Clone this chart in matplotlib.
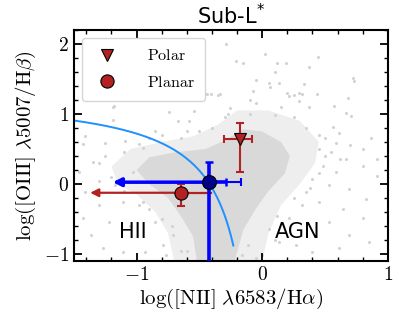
import numpy as np
import matplotlib
matplotlib.use("Agg")
from matplotlib import pyplot as plt
from matplotlib.ticker import MultipleLocator, FuncFormatter

plt.rcParams['mathtext.fontset'] = 'cm'
plt.rcParams['font.family'] = 'serif'
plt.rcParams['font.serif'] = ['DejaVu Serif']

# background galaxy cloud: dense core, medium zone and sparse points (read by eye)
core_x = [-1.0, -0.9, -0.7, -0.45, -0.3, -0.15, 0.0, 0.15, 0.22, 0.18, 0.05, -0.05, -0.15, -0.22, -0.52, -0.55, -0.65, -0.75, -0.9]
core_y = [0.2, 0.38, 0.45, 0.5, 0.62, 0.78, 0.75, 0.6, 0.4, 0.15, -0.1, -0.35, -0.65, -1.1, -1.1, -0.75, -0.45, -0.2, 0.0]
mid_x = [-1.2, -1.05, -0.8, -0.55, -0.35, -0.2, 0.05, 0.3, 0.45, 0.42, 0.3, 0.15, 0.05, 0.0, -0.7, -0.75, -0.85, -1.0, -1.15]
mid_y = [0.25, 0.5, 0.6, 0.68, 0.85, 1.05, 1.05, 0.9, 0.6, 0.3, 0.0, -0.3, -0.7, -1.1, -1.1, -0.7, -0.4, -0.15, 0.0]
sparse_x = [-0.285, 0.02, -0.21, -0.15, 0.115, 0.19, 0.445, 0.37, 0.72, 0.73, -0.05, 0.05, 0.06, 0.13, -0.07,
            -0.44, -0.35, 0.21, 0.29, 0.68, -1.19, 0.37, 0.57, 0.67, 0.71, 0.87, 0.56, 0.61, 0.59, 0.32,
            0.44, 0.29, 0.2, 0.25, 0.33, -0.45, -0.41, -0.34, -0.54, -0.74, -1.19, -1.18, -0.67, -0.58, -0.5,
            -0.85, -1.41, -1.43, -1.25, -1.09, -0.98, -0.9, -0.26, -0.27, -1.46, -1.35, -1.25, -1.41, -1.3,
            -1.43, -1.22, -1.36, -1.27, -1.11, -0.93, -0.79, -0.85, -0.98, -1.11, -1.17, -1.03, -0.9, -0.71,
            -0.77, 0.48, 0.59, 0.67, 0.8, 0.91, 0.53, 0.69, 0.83, 0.45, 0.64, 0.8, 0.53, 0.69, 0.85, 0.61,
            0.4, 0.27, 0.13, 0.05, 0.21, 0.32, 0.0, -0.11, -0.16, 0.91, 0.4, 0.35, 0.45, 0.55, 0.7, 0.5,
            0.8, 0.62, -1.3, -1.05, -0.6, -0.1, 0.1,
            -1.1, -0.95, -0.8, -0.65, -0.4, -0.3, -0.1, 0.1, 0.25, 0.35, 0.45, 0.5, 0.45, 0.38, 0.25, 0.12,
            0.1, -0.05, -0.65, -0.72, -0.8, -0.95, -1.1, -1.2, -1.3, -0.6, -0.05, 0.15]
sparse_y = [2.0, 1.86, 1.76, 1.72, 1.72, 1.72, 1.81, 1.67, 1.51, 1.47, 1.48, 1.44, 1.38, 1.44, 1.33,
            1.28, 1.27, 1.26, 1.3, 1.23, 1.1, 1.1, 1.11, 1.02, 0.97, 0.66, 0.82, 0.73, 0.59, 1.28,
            1.28, 1.18, 1.3, 1.27, 1.43, 1.29, 1.29, 1.29, 1.04, 1.03, 0.92, 1.11, 0.9, 0.9, 0.76,
            0.76, 0.69, 0.57, 0.59, 0.62, 0.57, 0.66, 1.09, 1.0, 0.17, 0.31, 0.4, -0.12, -0.3,
            -0.49, -0.54, -0.73, -0.92, -0.97, -0.97, -0.87, -0.54, -0.3, -0.26, -0.02, 0.17, -0.35, -0.73,
            -1.01, 0.26, 0.17, 0.36, 0.26, 0.12, -0.02, -0.07, -0.21, -0.26, -0.35, -0.49, -0.54, -0.73, -0.83, -0.92,
            -0.97, -0.87, -0.83, -0.64, -0.49, -0.3, -1.01, -0.87, -1.01, 0.36, 0.07, -0.12, 0.5, 0.45, 0.55, 0.65,
            0.5, 0.35, 0.05, -0.6, -0.95, 1.2, 1.6,
            0.45, 0.52, 0.7, 0.65, 0.8, 0.95, 1.0, 0.98, 0.95, 0.8, 0.7, 0.4, 0.15, -0.05, -0.2, -0.45,
            -0.8, -1.05, -0.95, -0.6, -0.5, -0.25, -0.1, 0.1, 0.3, 0.75, 1.15, 1.1]

# Kauffmann et al. (2003) demarcation
ka_a, ka_b, ka_c = 0.61, 0.05, 1.3
ka_xmin, ka_xmax = -1.5, -0.23

# measurements
polar_x, polar_y = -0.178, 0.64
polar_xerr = [[0.128], [0.098]]
polar_yerr = [[0.47], [0.23]]
planar_x, planar_y = -0.645, -0.125
planar_xlim, planar_xhi = -1.37, -0.41
planar_yerr = [[0.19], [0.125]]
sub_x, sub_y = -0.42, 0.026
sub_xlim, sub_xcap1, sub_xcap2 = -1.19, -0.29, -0.17
sub_ytop, sub_ybot = 0.31, -1.4

red = '#b22222'
blue = '#0000ff'

fig = plt.figure(figsize=(3.99, 3.28), dpi=100)
ax = fig.add_axes([0.185, 0.204, 0.787, 0.705])

ax.fill(mid_x, mid_y, color='#eeeeee', lw=0, zorder=0)
ax.fill(core_x, core_y, color='#d9d9d9', lw=0, zorder=0)
ax.scatter(sparse_x, sparse_y, s=5, color='#d3d3d3', lw=0, zorder=0)

kx = np.linspace(ka_xmin, ka_xmax, 200)
ax.plot(kx, ka_a / (kx - ka_b) + ka_c, color='#1e90ff', lw=1.4, zorder=1)

# polar
ax.errorbar(polar_x, polar_y, xerr=polar_xerr, yerr=polar_yerr, fmt='none',
            ecolor=red, elinewidth=1.5, capsize=3, capthick=1.5, zorder=3)
ax.plot(polar_x, polar_y, 'v', ms=9, mfc=red, mec='k', mew=0.8, zorder=4, label=r'$\mathrm{Polar}$', ls='none')

# planar
ax.annotate('', xy=(planar_xlim, planar_y), xytext=(planar_x, planar_y),
            arrowprops=dict(arrowstyle='-|>', color=red, lw=1.6, mutation_scale=12, shrinkA=0, shrinkB=0), zorder=3)
ax.plot([planar_x, planar_xhi], [planar_y, planar_y], color=red, lw=1.6, zorder=3)
ax.errorbar(planar_x, planar_y, yerr=planar_yerr, fmt='none',
            ecolor=red, elinewidth=1.5, capsize=3, capthick=1.5, zorder=3)
ax.plot(planar_x, planar_y, 'o', ms=9.5, mfc=red, mec='k', mew=0.8, zorder=4, label=r'$\mathrm{Planar}$', ls='none')

# full sub-L* sample
ax.annotate('', xy=(sub_xlim, sub_y), xytext=(sub_x, sub_y),
            arrowprops=dict(arrowstyle='-|>', color=blue, lw=2.5, mutation_scale=12, shrinkA=0, shrinkB=0), zorder=5)
ax.errorbar(sub_x, sub_y, xerr=[[0], [sub_xcap2 - sub_x]], fmt='none',
            ecolor=blue, elinewidth=1.5, capsize=3, capthick=1.5, zorder=5)
ax.errorbar(sub_x, sub_y, xerr=[[0], [sub_xcap1 - sub_x]], yerr=[[sub_y - sub_ybot], [sub_ytop - sub_y]], fmt='none',
            ecolor=blue, elinewidth=2.6, capsize=3, capthick=1.8, zorder=5)
ax.plot(sub_x, sub_y, 'o', ms=10, mfc='#00008b', mec='k', mew=0.8, zorder=6)

ax.text(-1.03, -0.69, 'HII', family='DejaVu Sans', fontsize=15, ha='center', va='center')
ax.text(0.285, -0.68, 'AGN', family='DejaVu Sans', fontsize=15, ha='center', va='center')

ax.set_xlim(-1.5, 1.0)
ax.set_ylim(-1.1, 2.2)
ax.xaxis.set_major_locator(MultipleLocator(1))
ax.xaxis.set_minor_locator(MultipleLocator(0.2))
ax.yaxis.set_major_locator(MultipleLocator(1))
ax.yaxis.set_minor_locator(MultipleLocator(0.2))
fmt = FuncFormatter(lambda v, p: r'$%g$' % v)
ax.xaxis.set_major_formatter(fmt)
ax.yaxis.set_major_formatter(fmt)
ax.tick_params(which='both', direction='in', top=True, right=True, labelsize=14)
ax.tick_params(which='major', length=6, width=1.3)
ax.tick_params(which='minor', length=3, width=1.0)
for s in ax.spines.values():
    s.set_linewidth(1.5)

ax.set_xlabel(r'$\log([\mathrm{NII}]\ \lambda6583/\mathrm{H}\alpha)$', fontsize=15, labelpad=2)
ax.set_ylabel(r'$\log([\mathrm{OIII}]\ \lambda5007/\mathrm{H}\beta)$', fontsize=15, labelpad=4)
ax.set_title(r'Sub-L$^{*}$', family='DejaVu Sans', math_fontfamily='dejavusans', fontsize=15, pad=4)

ax.legend(loc='upper left', fontsize=11.5, handletextpad=1.5, labelspacing=0.6, borderpad=0.6)

fig.savefig('out.png', dpi=100)
